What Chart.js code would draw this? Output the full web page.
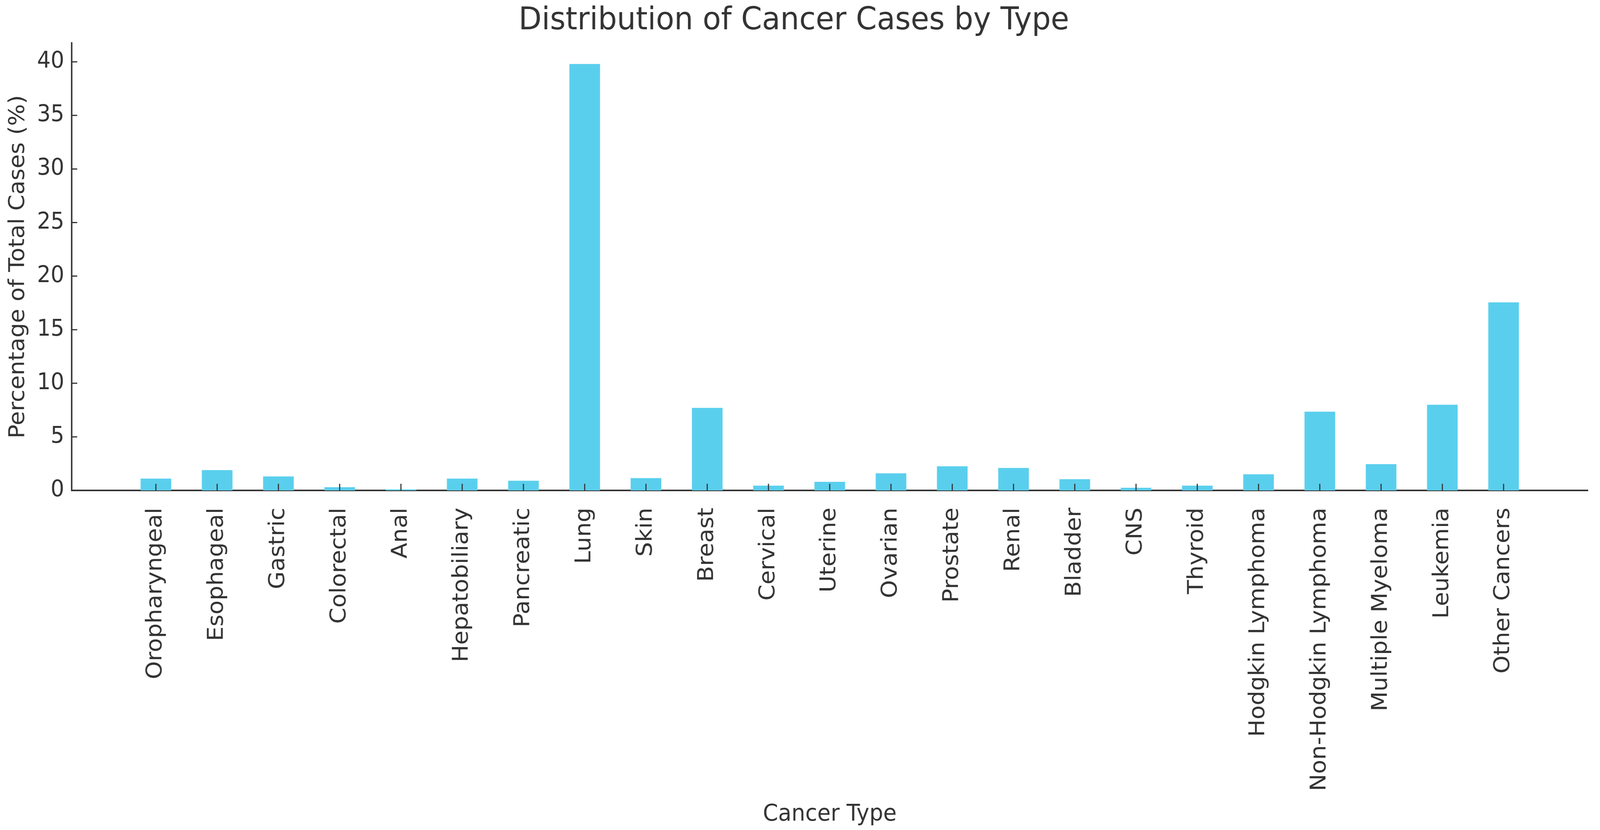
<!DOCTYPE html>
<html>
<head>
<meta charset="utf-8">
<script src="https://cdn.jsdelivr.net/npm/chart.js@4/dist/chart.umd.min.js"></script>
<style>
  html, body { margin: 0; padding: 0; background: #fff; overflow: hidden; }
  canvas { display: block; }
</style>
</head>
<body>
<!-- drawn at 4331x2124, stretched to whatever viewport we get -->
<canvas id="cancer-chart" width="4331" height="2124" style="width:100vw;height:100vh"></canvas>
<script>
const categories = ['Oropharyngeal', 'Esophageal', 'Gastric', 'Colorectal', 'Anal', 'Hepatobiliary',
    'Pancreatic', 'Lung', 'Skin', 'Breast', 'Cervical', 'Uterine', 'Ovarian', 'Prostate', 'Renal',
    'Bladder', 'CNS', 'Thyroid', 'Hodgkin Lymphoma', 'Non-Hodgkin Lymphoma', 'Multiple Myeloma',
    'Leukemia', 'Other Cancers'];
const percentages = [1.1, 1.9, 1.3, 0.3, 0.1, 1.1, 0.9, 39.8, 1.15, 7.7, 0.45, 0.8, 1.6, 2.25,
    2.1, 1.05, 0.25, 0.45, 1.5, 7.35, 2.45, 8.0, 17.55];
const yTicks = [0, 5, 10, 15, 20, 25, 30, 35, 40];

const font = 'DejaVu Sans';
const ink = '#333333';

// matplotlib-style ticks that point into the plot
const inwardTicks = {
    id: 'inwardTicks',
    afterDraw(chart) {
        const c = chart.ctx;
        const x = chart.scales.x;
        const y = chart.scales.y;
        c.save();
        c.strokeStyle = ink;
        c.lineWidth = 3;
        c.beginPath();
        x.ticks.forEach((t, i) => {
            const px = x.getPixelForTick(i);
            c.moveTo(px, y.bottom);
            c.lineTo(px, y.bottom - 17);
        });
        y.ticks.forEach((t, i) => {
            const py = y.getPixelForTick(i);
            c.moveTo(x.left, py);
            c.lineTo(x.left + 15, py);
        });
        c.stroke();
        c.restore();
    }
};

const ctx = document.getElementById('cancer-chart').getContext('2d');

const cancerChart = new Chart(ctx, {
    type: 'bar',
    data: {
        datasets: [{
            label: 'Percentage of Total Cases (%)',
            data: categories.map((name, i) => ({ x: i, y: percentages[i] })),
            backgroundColor: '#5acfed',
            barPercentage: 0.5,
            categoryPercentage: 1.0,
        }]
    },
    options: {
        responsive: false,
        animation: false,
        devicePixelRatio: 1,
        layout: { padding: { left: 0, right: 33, top: 0, bottom: 0 } },
        plugins: {
            legend: { display: false },
            tooltip: { enabled: false },
            title: {
                display: true,
                text: 'Distribution of Cancer Cases by Type',
                color: ink,
                font: { family: font, size: 81, weight: 'normal' },
                padding: { top: 5, bottom: 8 },
            },
        },
        scales: {
            x: {
                type: 'linear',
                min: -1.375,
                max: 23.375,
                offset: false,
                z: 1,
                grid: { display: false, drawTicks: false },
                border: { display: true, color: ink, width: 4 },
                afterBuildTicks: (scale) => {
                    scale.ticks = categories.map((name, i) => ({ value: i }));
                },
                afterFit: (scale) => { scale.height = 2124 - 1255; },
                ticks: {
                    autoSkip: false,
                    maxRotation: 90,
                    minRotation: 90,
                    padding: 44,
                    color: ink,
                    font: { family: font, size: 59 },
                    callback: (value) => categories[value],
                },
                title: {
                    display: true,
                    text: 'Cancer Type',
                    color: ink,
                    font: { family: font, size: 59 },
                    padding: { top: 0, bottom: 4 },
                },
            },
            y: {
                min: 0,
                max: 41.75,
                z: 1,
                grid: { display: false, drawTicks: false },
                border: { display: true, color: ink, width: 4 },
                afterBuildTicks: (scale) => {
                    scale.ticks = yTicks.map(v => ({ value: v }));
                },
                afterFit: (scale) => { scale.width = 194; },
                ticks: {
                    padding: 20,
                    color: ink,
                    font: { family: font, size: 58 },
                },
                title: {
                    display: true,
                    text: 'Percentage of Total Cases (%)',
                    color: ink,
                    font: { family: font, size: 59 },
                    padding: { top: 14, bottom: 0 },
                },
            },
        },
    },
    plugins: [inwardTicks],
});
</script>
</body>
</html>
